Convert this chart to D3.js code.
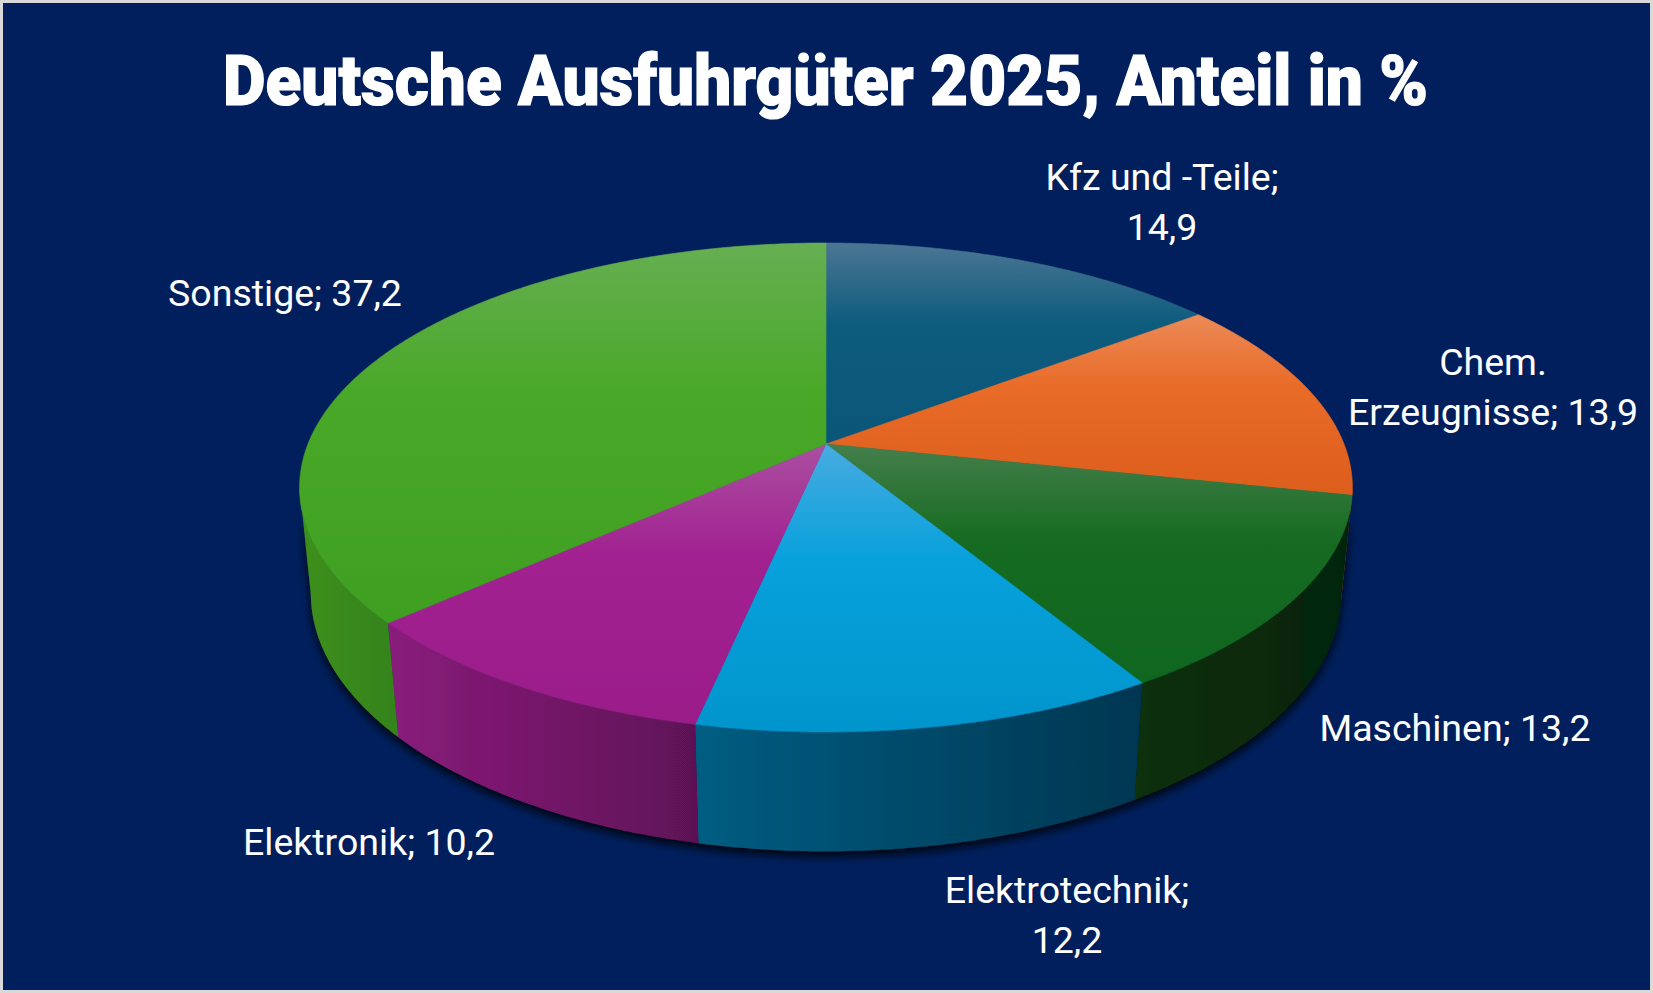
<!DOCTYPE html>
<html>
<head>
<meta charset="utf-8">
<script src="https://cdn.jsdelivr.net/npm/d3@7"></script>
<style>
  html, body { margin: 0; padding: 0; background: #ffffff; }
  svg { display: block; }
</style>
</head>
<body>
<div id="chart"></div>
<script>
// Chart data
var categories = ["Kfz und -Teile", "Chem. Erzeugnisse", "Maschinen", "Elektrotechnik", "Elektronik", "Sonstige"];
var shares = [14.9, 13.9, 13.2, 12.2, 10.2, 37.2];
var chartTitle = "Deutsche Ausfuhrgüter 2025, Anteil in %";

// Where Excel wrapped each data label (split string, or null = one line)
var labelBreaks = ["; ", " ", null, "; ", null, null];
// Label anchors: centre x, first baseline y
var labelPos = [[1162, 190], [1493, 375], [1455, 741], [1067, 903], [369, 855], [285, 306]];

// slice colours: top face (light, mid, dark) and side wall (left, right)
var topColors = [
    ["#4b7693", "#0d5b7d", "#0a5678"],
    ["#eb8a57", "#e96b28", "#dd5e1c"],
    ["#457f4c", "#166b21", "#0f661f"],
    ["#48abe0", "#08a1dc", "#0095cc"],
    ["#ab4fa1", "#a12190", "#9a1c89"],
    ["#66af52", "#49a827", "#3f9f21"]
];
var sideColors = [
    ["#0a4a66", "#063549"],
    ["#b24f18", "#8a3c10"],
    ["#0a300f", "#052408"],
    ["#005d82", "#003651"],
    ["#891c7b", "#5e1156"],
    ["#3d901f", "#34821a"]
];

var width = 1653, height = 993;

var svg = d3.select("#chart")
    .append("svg")
    .attr("width", width)
    .attr("height", height);

var defs = svg.append("defs");

// frame + background
svg.append("rect")
    .attr("width", width)
    .attr("height", height)
    .attr("fill", "#d9d9d9");
svg.append("rect")
    .attr("x", 3).attr("y", 3)
    .attr("width", width - 6)
    .attr("height", height - 6)
    .attr("fill", "#001f5c");

// Title
svg.append("text")
    .attr("x", 825.5)
    .attr("y", 105)
    .attr("text-anchor", "middle")
    .attr("textLength", 1205)
    .attr("lengthAdjust", "spacingAndGlyphs")
    .style("font-family", "Roboto, 'Liberation Sans', sans-serif")
    .style("font-weight", 900)
    .style("font-size", "70px")
    .attr("fill", "#ffffff")
    .attr("stroke", "#ffffff")
    .attr("stroke-width", 1.2)
    .text(chartTitle);

// Perspective projection of a unit disk (Excel 3D pie)
var cx = 826, cy = 444;        // screen position of the pie centre (top face)
var F = 2590, D = 5.0;         // focal length (px) and camera distance (radii)
var tilt = 27.2 * Math.PI / 180;
var S = Math.sin(tilt), C = Math.cos(tilt);
var H = 0.2315;                // thickness in radii

// a = angle clockwise from the far point, r = radius, h = height
function proj(a, h, r) {
    if (r === undefined) r = 1;
    var x = r * Math.sin(a), z = r * Math.cos(a);
    var depth = D - h * S + z * C;
    return [cx + F * x / depth, cy - F * (h * C + z * S) / depth];
}

function arcPoints(a0, a1, h) {
    var step = Math.PI / 360;
    var pts = d3.range(a0, a1, step).map(function(a) { return proj(a, h); });
    pts.push(proj(a1, h));
    return pts;
}

var line = d3.line();

var pie = d3.pie().sort(null).value(function(d) { return d; });
var arcs = pie(shares);

// gradients
arcs.forEach(function(d, i) {
    var g = defs.append("linearGradient")
        .attr("id", "top" + i)
        .attr("x1", 0).attr("y1", 0).attr("x2", 0).attr("y2", 1);
    g.append("stop").attr("offset", "0%").attr("stop-color", topColors[i][0]);
    g.append("stop").attr("offset", "40%").attr("stop-color", topColors[i][1]);
    g.append("stop").attr("offset", "100%").attr("stop-color", topColors[i][2]);

    var s = defs.append("linearGradient")
        .attr("id", "side" + i)
        .attr("x1", 0).attr("y1", 0).attr("x2", 1).attr("y2", 0);
    s.append("stop").attr("offset", "0%").attr("stop-color", sideColors[i][0]);
    s.append("stop").attr("offset", "100%").attr("stop-color", sideColors[i][1]);
});

var shadow = defs.append("filter")
    .attr("id", "shadow")
    .attr("x", "-10%").attr("y", "-10%")
    .attr("width", "120%").attr("height", "130%");
shadow.append("feDropShadow")
    .attr("dx", 0).attr("dy", 5)
    .attr("stdDeviation", 5)
    .attr("flood-color", "#000000")
    .attr("flood-opacity", 0.85);

// Visible part of the outer wall lies between the two silhouette angles
var silR = Math.acos(-C / D);
var silL = 2 * Math.PI - silR;

var wallGroup = svg.append("g").attr("filter", "url(#shadow)");

arcs.forEach(function(d, i) {
    var a0 = Math.max(d.startAngle, silR);
    var a1 = Math.min(d.endAngle, silL);
    if (a1 <= a0) return;
    var topPts = arcPoints(a0, a1, 0);
    var botPts = arcPoints(a0, a1, -H).reverse();
    wallGroup.append("path")
        .attr("d", line(topPts.concat(botPts)) + "Z")
        .attr("fill", "url(#side" + i + ")");
});

// Top faces
var topGroup = svg.append("g");
arcs.forEach(function(d, i) {
    var pts = [proj(0, 0, 0)].concat(arcPoints(d.startAngle, d.endAngle, 0));
    topGroup.append("path")
        .attr("d", line(pts) + "Z")
        .attr("fill", "url(#top" + i + ")")
        .attr("stroke", "url(#top" + i + ")")
        .attr("stroke-width", 0.6)
        .attr("stroke-linejoin", "round");
});

// Data labels
var fmt = function(v) { return d3.format(".1f")(v).replace(".", ","); };

var labelGroup = svg.append("g")
    .style("font-family", "Roboto, 'Noto Sans', sans-serif")
    .style("font-size", "37.5px")
    .attr("fill", "#ffffff")
    .attr("text-anchor", "middle");

categories.forEach(function(cat, i) {
    var full = cat + "; " + fmt(shares[i]);
    var lines = [full];
    var br = labelBreaks[i];
    if (br) {
        var k = full.indexOf(br);
        lines = [full.slice(0, k + br.trimEnd().length), full.slice(k + br.length)];
    }
    var t = labelGroup.append("text")
        .attr("x", labelPos[i][0])
        .attr("y", labelPos[i][1]);
    lines.forEach(function(l, j) {
        t.append("tspan")
            .attr("x", labelPos[i][0])
            .attr("dy", j === 0 ? 0 : 50)
            .text(l);
    });
});
</script>
</body>
</html>
